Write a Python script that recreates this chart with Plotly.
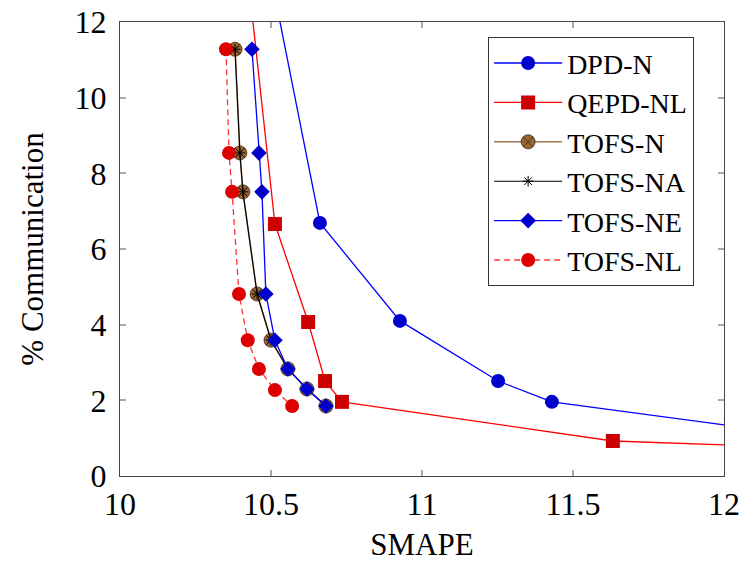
import plotly.graph_objects as go

# ---- data ----
dpd_n_x = [10.48, 10.662, 10.927, 11.252, 11.43, 12.5]
dpd_n_y = [14.0, 6.69, 4.10, 2.51, 1.96, 0.82]

qepd_nl_x = [10.413, 10.513, 10.623, 10.679, 10.735, 11.632, 12.4]
qepd_nl_y = [14.0, 6.66, 4.07, 2.51, 1.96, 0.925, 0.71]

tofs_n_x = [10.381, 10.397, 10.407, 10.454, 10.50, 10.556, 10.619, 10.682]
tofs_n_y = [11.28, 8.54, 7.51, 4.81, 3.59, 2.83, 2.30, 1.85]

tofs_na_x = [10.381, 10.397, 10.407, 10.454, 10.50, 10.556, 10.619, 10.682]
tofs_na_y = [11.28, 8.54, 7.51, 4.81, 3.59, 2.83, 2.30, 1.85]

tofs_ne_x = [10.437, 10.46, 10.47, 10.483, 10.513, 10.556, 10.619, 10.682]
tofs_ne_y = [11.28, 8.54, 7.51, 4.81, 3.59, 2.83, 2.30, 1.85]

tofs_nl_x = [10.351, 10.361, 10.371, 10.394, 10.423, 10.46, 10.513, 10.57]
tofs_nl_y = [11.28, 8.54, 7.51, 4.81, 3.59, 2.83, 2.27, 1.85]

x_ticks = [10, 10.5, 11, 11.5, 12]
x_tick_labels = ["10", "10.5", "11", "11.5", "12"]
y_ticks = [0, 2, 4, 6, 8, 10, 12]

FONT = "Liberation Serif, Times New Roman, serif"

fig = go.Figure()

fig.add_trace(go.Scatter(
    x=dpd_n_x, y=dpd_n_y, name="DPD-N", mode="lines+markers",
    line=dict(color="#0000ff", width=1.3),
    marker=dict(symbol="circle", size=14, color="#0000cc", line=dict(width=0))))

fig.add_trace(go.Scatter(
    x=qepd_nl_x, y=qepd_nl_y, name="QEPD-NL", mode="lines+markers",
    line=dict(color="#ff0000", width=1.3),
    marker=dict(symbol="square", size=14, color="#cc0000", line=dict(width=0))))

fig.add_trace(go.Scatter(
    x=tofs_n_x, y=tofs_n_y, name="TOFS-N", mode="lines+markers",
    line=dict(color="#a07850", width=1.6),
    marker=dict(symbol="circle-x", size=14, color="#996633",
                line=dict(width=0.8, color="#3a2a1a"))))

fig.add_trace(go.Scatter(
    x=tofs_na_x, y=tofs_na_y, name="TOFS-NA", mode="lines+markers",
    line=dict(color="#000000", width=1.1),
    marker=dict(symbol="asterisk-open", size=9, color="#000000",
                line=dict(width=1, color="#000000"))))

fig.add_trace(go.Scatter(
    x=tofs_ne_x, y=tofs_ne_y, name="TOFS-NE", mode="lines+markers",
    line=dict(color="#0000ff", width=1.3),
    marker=dict(symbol="diamond", size=12, color="#0000cc", line=dict(width=0))))

fig.add_trace(go.Scatter(
    x=tofs_nl_x, y=tofs_nl_y, name="TOFS-NL", mode="lines+markers",
    line=dict(color="#ff3333", width=1.3, dash="6px,4px"),
    marker=dict(symbol="circle", size=14, color="#dd0000", line=dict(width=0))))

axis_common = dict(
    showgrid=False, zeroline=False, automargin=False,
    showline=True, linecolor="#444444", linewidth=1.4, mirror="ticks",
    ticks="inside", ticklen=6, tickwidth=1.5, tickcolor="#aaaaaa",
    tickfont=dict(family=FONT, size=32, color="#000000"),
)

fig.update_layout(
    width=744, height=570,
    margin=dict(l=120, r=20, t=22, b=94),
    paper_bgcolor="white", plot_bgcolor="white",
    font=dict(family=FONT, color="#000000"),
    showlegend=True,
    legend=dict(
        x=0.609, y=0.967, xanchor="left", yanchor="top",
        bordercolor="#333333", borderwidth=1.3, bgcolor="white",
        font=dict(family=FONT, size=28, color="#000000"),
        tracegroupgap=0, itemwidth=68,
    ),
)

fig.update_xaxes(range=[10, 12], tickvals=x_ticks, ticktext=x_tick_labels,
                 ticklabelstandoff=-1,
                 title=dict(text="SMAPE", font=dict(family=FONT, size=31), standoff=12),
                 **axis_common)
fig.update_yaxes(range=[0, 12], tickvals=y_ticks, ticklabelstandoff=6,
                 title=dict(text="% Communication", font=dict(family=FONT, size=31), standoff=21),
                 **axis_common)

fig.write_html("out.html")
